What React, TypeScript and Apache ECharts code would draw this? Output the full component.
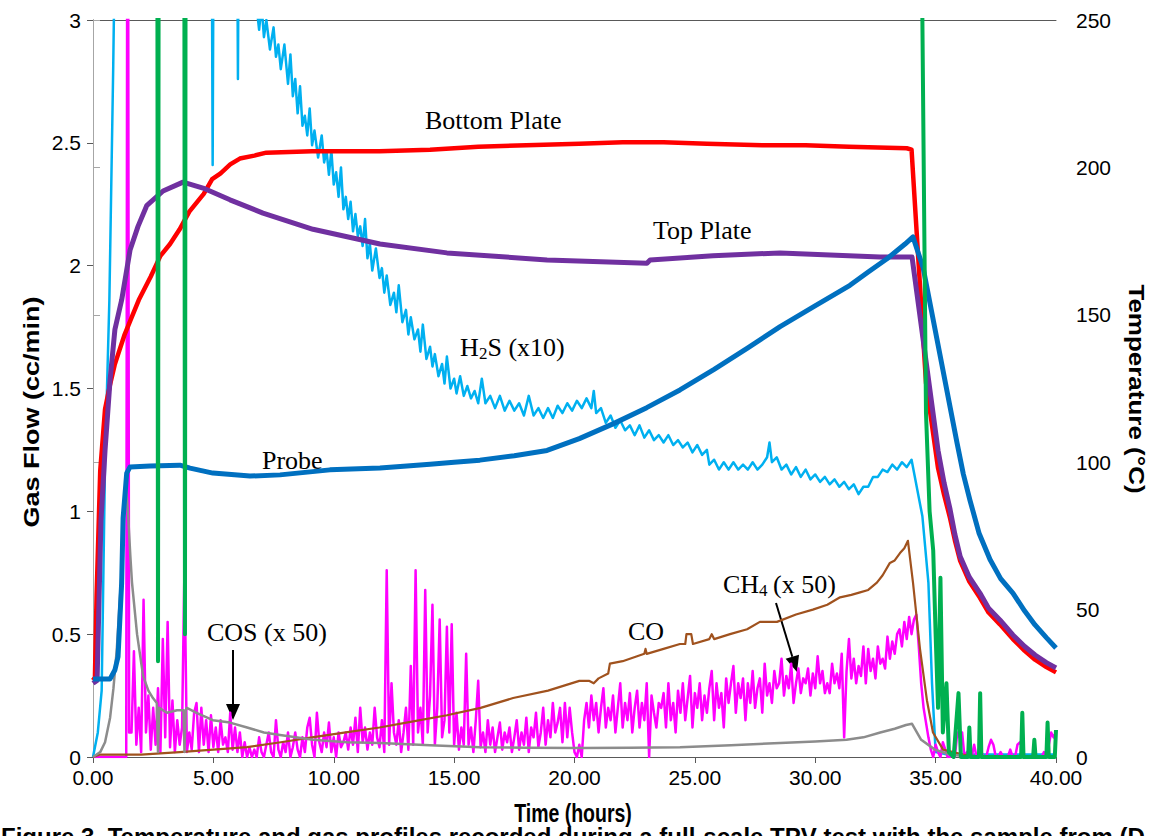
import React, { useEffect, useRef } from "react";
import * as echarts from "echarts";

// ---------- tick labels ----------
const timeTickLabels = ["0.00", "5.00", "10.00", "15.00", "20.00", "25.00", "30.00", "35.00", "40.00"];
const flowTickLabels = ["0", "0.5", "1", "1.5", "2", "2.5", "3"];
const tempTickLabels = ["0", "50", "100", "150", "200", "250"];

// ---------- temperature series (°C, right axis) : [hours, value] ----------
const bottomPlate = [
  [0, 26], [0.08, 27], [0.15, 55], [0.3, 97], [0.5, 118], [0.7, 126], [0.9, 133], [1.1, 138], [1.3, 143],
  [1.55, 148], [1.9, 155], [2.4, 163], [2.8, 170], [3.2, 174], [3.6, 179], [4.0, 185], [4.6, 191], [4.95, 196],
  [5.3, 198], [5.7, 201], [6.1, 203], [6.7, 204], [7.2, 205], [9.1, 205.5], [11.9, 205.5], [14, 206], [16, 207],
  [18, 207.5], [20.2, 208], [22, 208.5], [23.7, 208.5], [25.5, 208], [27.8, 207.5], [29.6, 207.5], [31.4, 207],
  [33.8, 206.5], [34.0, 206], [34.6, 127], [35.1, 98], [35.35, 89], [35.6, 81], [35.8, 73.5], [36.02, 66.5],
  [36.4, 59.5], [36.84, 54], [37.2, 49], [37.67, 45], [38.21, 40], [38.7, 36], [39.13, 33], [39.6, 30.5],
  [40, 28.7],
];
const topPlate = [
  [0, 25], [0.17, 26], [0.25, 53], [0.33, 80], [0.5, 104], [0.71, 128], [0.91, 145], [1.19, 155], [1.54, 172],
  [1.87, 180], [2.23, 187], [2.91, 192], [3.74, 195], [4.57, 193], [5.69, 189], [7.06, 184.5], [9.14, 179],
  [11.92, 174], [14.7, 171], [18.86, 168.6], [23.01, 167.5], [23.14, 168.6], [25.75, 170], [28.54, 171],
  [32.69, 169.6], [34.02, 169.6], [35.1, 104], [35.35, 93], [35.6, 84], [35.8, 75.5], [36.02, 68], [36.4, 61],
  [36.84, 55.6], [37.2, 50.5], [37.67, 46.5], [38.21, 41.4], [38.7, 37.5], [39.13, 34.6], [39.6, 32],
  [40, 30.2],
];
const probe = [
  [0, 26.5], [0.71, 26.5], [0.91, 29.5], [1.04, 34], [1.19, 59], [1.25, 81], [1.4, 96.3], [1.54, 98.4],
  [2.37, 98.7], [3.61, 99], [4.03, 98], [4.98, 96.3], [6.52, 95.3], [7.77, 95.7], [9.84, 97.4], [11.92, 98],
  [12.9, 98.6], [14, 99.3], [15, 100], [16.07, 100.7], [17.5, 102.2], [18.86, 104], [20.2, 108], [21.6, 113],
  [23.0, 118.5], [24.38, 124.5], [25.8, 131.5], [27.2, 138.8], [28.54, 146], [29.99, 153], [31.44, 160],
  [32.2, 164.5], [32.98, 169], [33.73, 174], [34.06, 176.4], [34.48, 166], [35.89, 106.5], [36.15, 96],
  [36.43, 87], [36.8, 76], [37.26, 67], [37.7, 60.5], [38.21, 55.6], [38.7, 49.5], [39.13, 44.8], [39.6, 40.5],
  [40, 37],
];

// ---------- gas flow series (cc/min, left axis) : [hours, value] ----------
const h2s = [
  [0, 0], [0.2, 0.1], [0.36, 0.27], [0.5, 1.2], [0.68, 1.86], [0.84, 2.81], [0.95, 3.6], [1.1, 4.2], [4.9, 4.2],
  [4.97, 2.41], [5.04, 4.2], [5.95, 4.2], [6.02, 2.76], [6.09, 4.2], [6.5, 3.4], [6.8, 3.05], [6.9, 2.96],
  [7.0, 3.06], [7.1, 2.93], [7.2, 3.0], [7.35, 2.88], [7.5, 2.97], [7.6, 2.85], [7.7, 2.9], [7.8, 2.8],
  [7.95, 2.9], [8.1, 2.74], [8.2, 2.86], [8.3, 2.69], [8.4, 2.76], [8.5, 2.62], [8.6, 2.73], [8.7, 2.57],
  [8.8, 2.61], [8.9, 2.53], [9.0, 2.64], [9.1, 2.49], [9.2, 2.55], [9.35, 2.44], [9.5, 2.53], [9.6, 2.42],
  [9.7, 2.47], [9.8, 2.37], [9.9, 2.47], [10.0, 2.33], [10.1, 2.38], [10.2, 2.28], [10.3, 2.4], [10.4, 2.23],
  [10.5, 2.28], [10.6, 2.19], [10.7, 2.26], [10.8, 2.14], [10.9, 2.21], [11.0, 2.12], [11.1, 2.16], [11.2, 2.08],
  [11.3, 2.19], [11.4, 2.03], [11.5, 2.09], [11.6, 1.98], [11.75, 2.07], [11.9, 1.95], [12.0, 1.99],
  [12.1, 1.89], [12.2, 1.96], [12.35, 1.84], [12.5, 1.89], [12.6, 1.81], [12.7, 1.92], [12.85, 1.77],
  [13.0, 1.82], [13.1, 1.72], [13.2, 1.79], [13.35, 1.7], [13.5, 1.74], [13.6, 1.65], [13.7, 1.76],
  [13.85, 1.62], [14.0, 1.67], [14.1, 1.59], [14.2, 1.64], [14.35, 1.55], [14.5, 1.6], [14.6, 1.52],
  [14.7, 1.63], [14.85, 1.5], [15.0, 1.54], [15.1, 1.48], [15.25, 1.55], [15.4, 1.47], [15.55, 1.51],
  [15.7, 1.46], [15.85, 1.49], [16.0, 1.44], [16.15, 1.54], [16.3, 1.44], [16.5, 1.47], [16.7, 1.42],
  [16.9, 1.47], [17.1, 1.41], [17.3, 1.45], [17.5, 1.41], [17.7, 1.44], [17.9, 1.39], [18.1, 1.47],
  [18.3, 1.39], [18.5, 1.42], [18.7, 1.38], [18.9, 1.42], [19.1, 1.38], [19.3, 1.43], [19.5, 1.4],
  [19.7, 1.44], [19.9, 1.41], [20.1, 1.45], [20.3, 1.42], [20.5, 1.46], [20.7, 1.42], [20.8, 1.49],
  [20.9, 1.4], [21.1, 1.42], [21.3, 1.36], [21.5, 1.39], [21.7, 1.34], [21.9, 1.37], [22.1, 1.33],
  [22.3, 1.35], [22.5, 1.31], [22.7, 1.35], [22.9, 1.3], [23.1, 1.33], [23.3, 1.29], [23.5, 1.31],
  [23.7, 1.28], [23.9, 1.31], [24.1, 1.27], [24.3, 1.29], [24.5, 1.26], [24.7, 1.28], [24.9, 1.24],
  [25.1, 1.27], [25.3, 1.23], [25.5, 1.25], [25.6, 1.19], [25.8, 1.21], [26.0, 1.17], [26.2, 1.2],
  [26.4, 1.17], [26.6, 1.2], [26.8, 1.17], [27.0, 1.19], [27.2, 1.17], [27.4, 1.2], [27.6, 1.17],
  [27.8, 1.19], [28.0, 1.22], [28.1, 1.28], [28.2, 1.2], [28.4, 1.22], [28.6, 1.17], [28.8, 1.19],
  [29.0, 1.15], [29.2, 1.18], [29.4, 1.14], [29.6, 1.17], [29.8, 1.13], [30.0, 1.15], [30.2, 1.12],
  [30.4, 1.14], [30.6, 1.11], [30.8, 1.13], [31.0, 1.1], [31.2, 1.12], [31.4, 1.09], [31.6, 1.11],
  [31.8, 1.07], [32.0, 1.1], [32.2, 1.1], [32.4, 1.14], [32.6, 1.14], [32.8, 1.17], [33.0, 1.16],
  [33.2, 1.19], [33.4, 1.17], [33.6, 1.2], [33.8, 1.18], [34.0, 1.21], [34.45, 0.98], [34.7, 0.71],
  [34.85, 0.3], [35.0, 0.02], [35.5, 0.01], [40, 0.01],
];

const co = [
  [0, 0], [0.3, 0.01], [2, 0.01], [3.6, 0.02], [5, 0.03], [6.4, 0.04], [7.8, 0.06], [9.1, 0.08], [10.5, 0.1],
  [11.9, 0.12], [13.3, 0.145], [14.7, 0.17], [16.1, 0.2], [17.45, 0.24], [18.9, 0.27], [20.2, 0.31],
  [20.6, 0.31], [20.8, 0.3], [21.0, 0.32], [21.4, 0.34], [21.47, 0.38], [22.0, 0.39], [22.6, 0.41],
  [22.9, 0.42], [22.95, 0.44], [23.0, 0.42], [23.7, 0.44], [24.38, 0.46], [24.6, 0.46], [24.65, 0.5],
  [24.85, 0.5], [24.92, 0.46], [25.6, 0.48], [25.7, 0.5], [25.8, 0.48], [26.46, 0.5], [27.17, 0.52],
  [27.7, 0.55], [28.41, 0.55], [29.2, 0.58], [29.9, 0.6], [30.5, 0.62], [31.03, 0.65], [31.5, 0.66],
  [31.86, 0.67], [32.2, 0.68], [32.56, 0.71], [32.8, 0.74], [33.1, 0.79], [33.3, 0.8], [33.52, 0.83],
  [33.7, 0.85], [33.85, 0.88], [34.06, 0.71], [34.35, 0.44], [34.64, 0.23], [34.89, 0.1], [35.31, 0.03],
  [36.14, 0.01], [37, 0], [40, 0],
];

const cos = [
  [0, 0], [0.3, 0.02], [0.5, 0.06], [0.71, 0.16], [0.85, 0.28], [0.99, 0.44], [1.1, 0.62], [1.2, 0.77],
  [1.3, 1.0], [1.37, 1.1], [1.45, 1.0], [1.55, 0.82], [1.62, 0.71], [1.83, 0.5], [2.08, 0.33], [2.3, 0.27],
  [2.49, 0.24], [2.65, 0.22], [2.7, 0.02], [2.75, 0.2], [3.07, 0.18], [3.49, 0.19], [3.76, 0.19], [3.8, 0.02],
  [3.85, 0.19], [3.9, 0.2], [4.3, 0.18], [4.98, 0.15], [5.69, 0.14], [6.4, 0.12], [7.1, 0.1], [7.77, 0.09],
  [9.14, 0.07], [10.55, 0.06], [11.92, 0.057], [14, 0.048], [16.07, 0.04], [18, 0.038], [20.23, 0.037],
  [22.3, 0.038], [24.38, 0.04], [26.5, 0.048], [28.54, 0.057], [30, 0.063], [31.3, 0.07], [32.0, 0.08],
  [32.7, 0.1], [33.3, 0.115], [33.77, 0.13], [34.02, 0.135], [34.4, 0.07], [34.97, 0.03], [35.6, 0.01],
  [36.5, 0], [40, 0],
];

const greenFlow = [
  [2.0, 6], [2.65, 6], [2.7, 0.39], [2.75, 6], [3.77, 6], [3.82, 0.5], [3.87, 6], [34.35, 6], [34.45, 3.0],
  [34.6, 1.4], [34.75, 1.0], [34.9, 0.84], [35.0, 0.5], [35.1, 0.2], [35.2, 0.73], [35.3, 0.1], [35.45, 0.3],
  [35.55, 0.02], [35.75, 0.0], [35.95, 0.26], [36.05, 0.0], [36.35, 0.0], [36.4, 0.12], [36.45, 0.0],
  [36.8, 0.0], [36.85, 0.26], [36.9, 0.0], [38.55, 0.0], [38.6, 0.18], [38.65, 0.0], [39.05, 0.0],
  [39.1, 0.07], [39.15, 0.0], [39.6, 0.0], [39.65, 0.14], [39.7, 0.0], [39.95, 0.0], [40, 0.11],
];

// CH4 (x 50): first points, then readings every 0.1 h starting at 1.6 h
const ch4Head = [[0, 0], [1.38, 0], [1.44, 5], [1.5, 0.1]];
const ch4Start = 1.6;
const ch4Step = 0.1;
const ch4Values = [
  0.1, 0.43, 0.05, 0.2, 0.02, 0.64, 0.1, 0.25, 0.03, 0.2,
  0.05, 0.28, 0.02, 0.48, 0.08, 0.55, 0.04, 0.23, 0.02, 0.15,
  0.05, 0.12, 0.78, 0.02, 0.1, 0.03, 0.18, 0.22, 0.02, 0.2,
  0.05, 0.15, 0.02, 0.17, 0.04, 0.12, 0.02, 0.15, 0.05, 0.08,
  0.02, 0.18, 0.03, 0.12, 0.02, 0.1, 0.0, 0.06, 0.0, 0.04,
  0.0, 0.03, 0.0, 0.08, 0.02, 0.0, 0.05, 0.1, 0.02, 0.0,
  0.15, 0.03, 0.0, 0.06, 0.02, 0.1, 0.0, 0.04, 0.1, 0.03,
  0.0, 0.08, 0.02, 0.12, 0.16, 0.05, 0.0, 0.18, 0.06, 0.02,
  0.1, 0.04, 0.14, 0.02, 0.08, 0.0, 0.1, 0.04, 0.06, 0.1,
  0.03, 0.12, 0.05, 0.16, 0.02, 0.2, 0.06, 0.12, 0.03, 0.1,
  0.05, 0.2, 0.08, 0.04, 0.15, 0.02, 0.76, 0.05, 0.3, 0.1,
  0.05, 0.15, 0.02, 0.1, 0.2, 0.03, 0.37, 0.05, 0.76, 0.1,
  0.2, 0.05, 0.68, 0.1, 0.25, 0.62, 0.05, 0.2, 0.56, 0.08,
  0.15, 0.53, 0.1, 0.54, 0.05, 0.18, 0.03, 0.12, 0.05, 0.42,
  0.05, 0.12, 0.02, 0.15, 0.31, 0.04, 0.1, 0.02, 0.15, 0.05,
  0.12, 0.02, 0.08, 0.14, 0.03, 0.1, 0.06, 0.12, 0.02, 0.08,
  0.15, 0.03, 0.1, 0.05, 0.16, 0.02, 0.12, 0.08, 0.18, 0.04,
  0.1, 0.2, 0.05, 0.15, 0.08, 0.22, 0.1, 0.14, 0.2, 0.06,
  0.22, 0.08, 0.2, 0.1, 0.02, 0.0, 0.05, 0.0, 0.15, 0.22,
  0.12, 0.25, 0.15, 0.22, 0.1, 0.2, 0.28, 0.12, 0.2, 0.15,
  0.25, 0.1, 0.2, 0.3, 0.12, 0.22, 0.15, 0.26, 0.1, 0.2,
  0.27, 0.12, 0.22, 0.15, 0.3, 0.0, 0.25, 0.18, 0.12, 0.22,
  0.2, 0.26, 0.12, 0.3, 0.15, 0.22, 0.1, 0.27, 0.18, 0.3,
  0.15, 0.24, 0.33, 0.12, 0.26, 0.2, 0.3, 0.15, 0.25, 0.18,
  0.28, 0.35, 0.15, 0.3, 0.2, 0.26, 0.12, 0.32, 0.22, 0.3,
  0.37, 0.18, 0.3, 0.24, 0.32, 0.15, 0.3, 0.22, 0.35, 0.2,
  0.28, 0.32, 0.18, 0.38, 0.25, 0.3, 0.22, 0.35, 0.28, 0.3,
  0.4, 0.25, 0.33, 0.28, 0.38, 0.22, 0.3, 0.36, 0.26, 0.32,
  0.3, 0.36, 0.25, 0.34, 0.28, 0.41, 0.3, 0.35, 0.26, 0.3,
  0.26, 0.38, 0.3, 0.34, 0.28, 0.42, 0.08, 0.35, 0.48, 0.32,
  0.4, 0.3, 0.37, 0.33, 0.45, 0.3, 0.44, 0.35, 0.4, 0.32,
  0.45, 0.38, 0.4, 0.36, 0.49, 0.4, 0.47, 0.42, 0.5, 0.52,
  0.45, 0.55, 0.48, 0.57, 0.5, 0.56, 0.58, 0.45, 0.3, 0.2,
  0.14, 0.08, 0.03, 0.0, 0.05, 0.02, 0.0, 0.06, 0.03, 0.0,
  0.0, 0.02, 0.0, 0.1, 0.08, 0.1, 0.0, 0.02, 0.0, 0.0,
  0.05, 0.0, 0.0, 0.02, 0.0, 0.0, 0.04, 0.07, 0.05, 0.0,
  0.0, 0.02, 0.0, 0.0, 0.0, 0.03, 0.0, 0.0, 0.05, 0.06,
  0.04, 0.0, 0.0, 0.0, 0.0, 0.02, 0.0, 0.0, 0.0, 0.02,
  0.0, 0.05, 0.1, 0.08, 0.1,
];

const caption =
  "Figure 3. Temperature and gas profiles recorded during a full-scale TPV test with the sample from (D";

const SERIF = '"Liberation Serif", "Times New Roman", serif';
const SANS = '"Liberation Sans", Arial, sans-serif';

export default function App() {
  const ref = useRef<HTMLDivElement>(null);

  useEffect(() => {
    document.body.style.margin = "0";
    if (!ref.current) return;
    const chart = echarts.init(ref.current, undefined, { renderer: "svg" });

    const ch4 = ch4Head.concat(
      ch4Values.map((v, i) => [Math.round((ch4Start + ch4Step * i) * 100) / 100, v])
    );

    const lineSeries = (name: string, data: number[][], color: string, width: number, yAxisIndex = 0) => ({
      name,
      type: "line",
      data,
      yAxisIndex,
      showSymbol: false,
      symbol: "none",
      clip: true,
      lineStyle: { color, width, join: "round" },
      emphasis: { disabled: true },
      z: 2,
    });

    const txt = (text: string, x: number, y: number, size = 26) => ({
      type: "text",
      x,
      y,
      style: {
        text,
        font: `${size}px ${SERIF}`,
        fill: "#000",
        textAlign: "left",
        textVerticalAlign: "middle",
        align: "left",
        verticalAlign: "middle",
      },
    });

    const title = (text: string, x: number, y: number, rotation: number, size: number, scaleX = 1, scaleY = 1) => ({
      type: "text",
      x,
      y,
      rotation,
      scaleX,
      scaleY,
      style: {
        text,
        font: `bold ${size}px ${SANS}`,
        fill: "#000",
        textAlign: "center",
        textVerticalAlign: "middle",
        align: "center",
        verticalAlign: "middle",
      },
    });

    const axisColor = "#595959";

    chart.setOption({
      animation: false,
      grid: { left: 93, right: 98, top: 20, bottom: 79, containLabel: false },
      xAxis: [
        {
          type: "value",
          min: 0,
          max: 40,
          interval: 5,
          axisLine: { show: true, onZero: false, lineStyle: { color: axisColor, width: 1 } },
          axisTick: { show: true, inside: false, length: 6, lineStyle: { color: axisColor } },
          axisLabel: {
            formatter: (v: number) => timeTickLabels[Math.round(v / 5)] ?? v.toFixed(2),
            fontSize: 21,
            color: "#000",
            margin: 10,
            fontFamily: SANS,
          },
          splitLine: { show: false },
        },
        {
          type: "value",
          position: "top",
          min: 0,
          max: 40,
          axisLine: { show: true, onZero: false, lineStyle: { color: axisColor, width: 1 } },
          axisTick: { show: false },
          axisLabel: { show: false },
          splitLine: { show: false },
        },
      ],
      yAxis: [
        {
          type: "value",
          position: "left",
          min: 0,
          max: 3,
          interval: 0.5,
          axisLine: { show: true, lineStyle: { color: axisColor, width: 1 } },
          axisTick: { show: true, inside: false, length: 6, lineStyle: { color: axisColor } },
          axisLabel: {
            formatter: (v: number) => flowTickLabels[Math.round(v / 0.5)] ?? String(v),
            fontSize: 21,
            color: "#000",
            margin: 12,
            fontFamily: SANS,
          },
          splitLine: { show: false },
        },
        {
          type: "value",
          position: "right",
          min: 0,
          max: 250,
          interval: 50,
          axisLine: { show: true, lineStyle: { color: "#A6A6A6", width: 1 } },
          axisTick: { show: true, inside: false, length: 7, lineStyle: { color: "#A6A6A6" } },
          axisLabel: {
            formatter: (v: number) => tempTickLabels[Math.round(v / 50)] ?? String(v),
            fontSize: 21,
            color: "#000",
            margin: 20,
            fontFamily: SANS,
          },
          splitLine: { show: false },
        },
      ],
      series: [
        lineSeries("H2S (x10)", h2s, "#00B0F0", 2.5),
        lineSeries("CH4 (x 50)", ch4, "#FF00FF", 2.5),
        lineSeries("CO", co, "#A0521E", 2.2),
        lineSeries("COS (x 50)", cos, "#8C8C8C", 2.5),
        lineSeries("Bottom Plate", bottomPlate, "#FF0000", 4.5, 1),
        lineSeries("Top Plate", topPlate, "#7030A0", 5, 1),
        lineSeries("Probe", probe, "#0070C0", 5, 1),
        lineSeries("Other gas", greenFlow, "#00B050", 4),
      ],
      graphic: {
        elements: [
          title("Time (hours)", 573, 814, 0, 25, 0.78, 1),
          title("Gas Flow (cc/min)", 31, 412, Math.PI / 2, 27, 1, 0.85),
          title("Temperature (°C)", 1137, 389, -Math.PI / 2, 26, 1, 0.85),
          txt("Bottom Plate", 425, 120),
          txt("Top Plate", 653, 230),
          txt("H", 460, 347),
          txt("2", 479, 353, 17),
          txt("S (x10)", 487.5, 347),
          txt("Probe", 262, 460),
          txt("COS (x 50)", 207, 632),
          txt("CO", 628, 631),
          txt("CH", 723, 584),
          txt("4", 759, 590, 17),
          txt("(x 50)", 773, 584),
          {
            type: "line",
            shape: { x1: 233, y1: 650, x2: 233, y2: 706 },
            style: { stroke: "#000", lineWidth: 2 },
          },
          {
            type: "polygon",
            shape: { points: [[226, 704], [240, 704], [233, 720]] },
            style: { fill: "#000" },
          },
          {
            type: "line",
            shape: { x1: 776, y1: 603, x2: 792.3, y2: 656.7 },
            style: { stroke: "#000", lineWidth: 2 },
          },
          {
            type: "polygon",
            shape: { points: [[785.6, 658.7], [799.0, 654.7], [797, 672]] },
            style: { fill: "#000" },
          },
          {
            type: "text",
            x: 1,
            y: 824,
            style: {
              text: caption,
              font: `bold 24px ${SANS}`,
              fill: "#000",
              textAlign: "left",
              textVerticalAlign: "top",
              align: "left",
              verticalAlign: "top",
            },
          },
        ],
      },
    });

    return () => chart.dispose();
  }, []);

  return <div ref={ref} style={{ width: 1154, height: 836 }} />;
}
